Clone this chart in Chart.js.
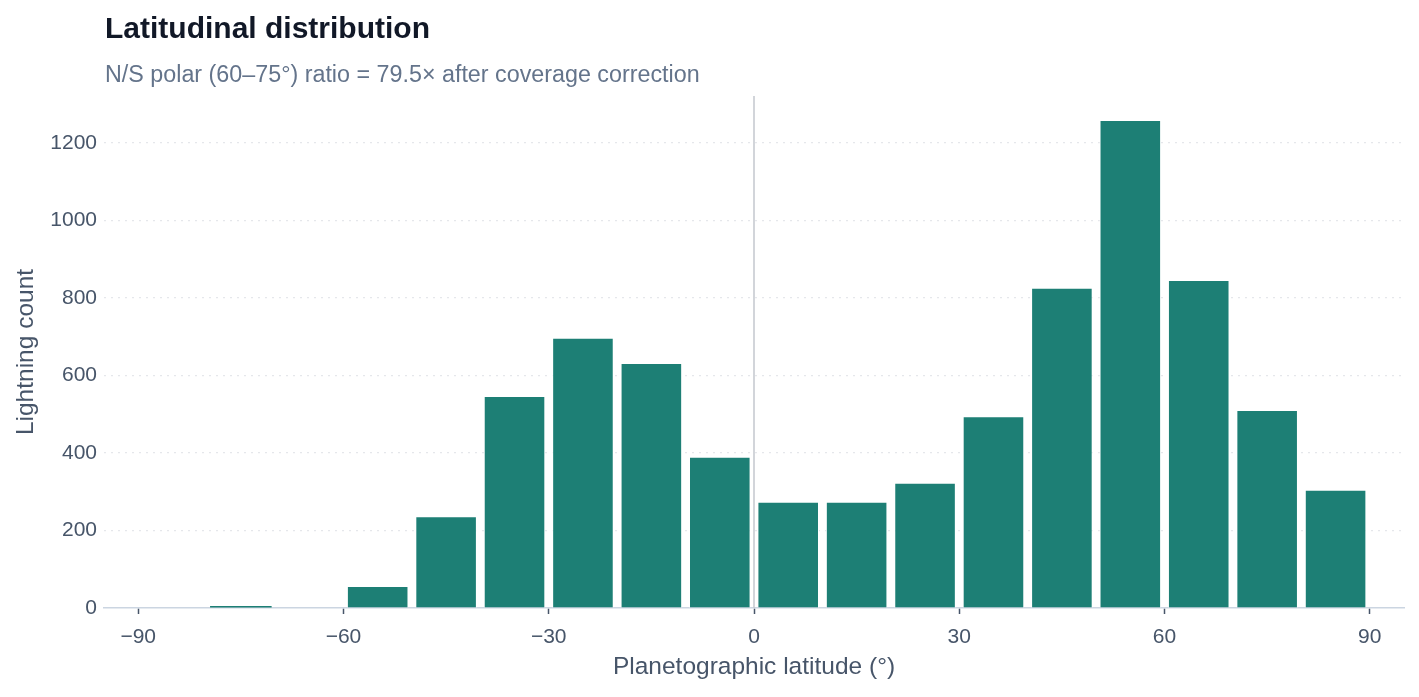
<!DOCTYPE html>
<html>
<head>
  <title>Latitudinal distribution</title>
  <script src="https://cdn.jsdelivr.net/npm/chart.js"></script>
  <style>
    html, body { margin: 0; padding: 0; background: #ffffff; }
    #wrap { width: 1419px; height: 697px; }
  </style>
</head>
<body>
  <div id="wrap"><canvas id="latChart" width="1419" height="697"></canvas></div>
  <script>
    // latitude bins (10 deg wide), given by centre
    var binCenters = [-85, -75, -65, -55, -45, -35, -25, -15, -5, 5, 15, 25, 35, 45, 55, 65, 75, 85];
    var counts = [1, 5, 0, 57, 237, 547, 697, 632, 390, 274, 274, 323, 495, 826, 1259, 846, 511, 305];
    var xTicks = [-90, -60, -30, 0, 30, 60, 90];
    var yTicks = [0, 200, 400, 600, 800, 1000, 1200];

    var titleText = 'Latitudinal distribution';
    var subtitleText = 'N/S polar (60\u201375\u00b0) ratio = 79.5\u00d7 after coverage correction';

    var fontFam = '"Liberation Sans", Arial, Helvetica, sans-serif';

    var headerPlugin = {
      id: 'header',
      beforeDatasetsDraw: function(chart) {
        var ctx = chart.ctx, area = chart.chartArea;
        var x0 = chart.scales.x.getPixelForValue(0);
        ctx.save();
        ctx.strokeStyle = '#c3c7ce';
        ctx.lineWidth = 1.5;
        ctx.beginPath();
        ctx.moveTo(x0, area.top);
        ctx.lineTo(x0, area.bottom);
        ctx.stroke();
        ctx.restore();
      },
      afterDraw: function(chart) {
        var ctx = chart.ctx, left = chart.chartArea.left;
        ctx.save();
        ctx.textBaseline = 'middle';
        ctx.textAlign = 'left';
        ctx.fillStyle = '#111827';
        ctx.font = 'bold 30px ' + fontFam;
        ctx.fillText(titleText, left + 1, 30);
        ctx.fillStyle = '#64748b';
        ctx.font = '23.3px ' + fontFam;
        ctx.fillText(subtitleText, left + 1, 76);
        ctx.restore();
      }
    };

    var points = binCenters.map(function(c, i) { return { x: c, y: counts[i] }; });

    var ctx = document.getElementById('latChart').getContext('2d');
    var latChart = new Chart(ctx, {
      type: 'bar',
      data: {
        datasets: [{
          label: 'Lightning count',
          data: points,
          backgroundColor: '#1d7f75',
          borderColor: '#ffffff',
          borderWidth: function(c) { return c.raw && c.raw.y < 20 ? 0 : 1; },
          barPercentage: 0.9,
          categoryPercentage: 1.0
        }]
      },
      options: {
        responsive: false,
        animation: false,
        layout: { padding: { left: 8, right: 15, top: 96, bottom: 11 } },
        plugins: {
          legend: { display: false },
          tooltip: { enabled: false }
        },
        scales: {
          x: {
            type: 'linear',
            min: -95,
            max: 95,
            offset: false,
            afterBuildTicks: function(scale) {
              scale.ticks = xTicks.map(function(v) { return { value: v }; });
            },
            afterFit: function(scale) { scale.height = 78; },
            grid: {
              display: true,
              offset: false,
              drawOnChartArea: false,
              drawTicks: true,
              tickLength: 6,
              tickColor: '#475569',
              tickWidth: 1.5
            },
            border: { display: true, color: '#cbd5e1', width: 1.5 },
            ticks: {
              color: '#475569',
              padding: 11,
              font: { family: fontFam, size: 21 },
              maxRotation: 0,
              callback: function(v) { return v < 0 ? '\u2212' + Math.abs(v) : '' + v; }
            },
            title: {
              display: true,
              text: 'Planetographic latitude (\u00b0)',
              color: '#475569',
              font: { family: fontFam, size: 24.5 },
              padding: { top: 4, bottom: 4 }
            }
          },
          y: {
            min: 0,
            max: 1321,
            afterBuildTicks: function(scale) {
              scale.ticks = yTicks.map(function(v) { return { value: v }; });
            },
            afterFit: function(scale) { scale.width = 96; },
            grid: {
              drawTicks: false,
              color: function(c) { return c.tick && c.tick.value === 0 ? 'rgba(0,0,0,0)' : '#e5e7eb'; },
              lineWidth: 1.2
            },
            border: { display: false, dash: [2, 5] },
            ticks: {
              color: '#475569',
              padding: 7,
              font: { family: fontFam, size: 21 },
              callback: function(v) { return '' + v; }
            },
            title: {
              display: true,
              text: 'Lightning count',
              color: '#475569',
              font: { family: fontFam, size: 24.5 },
              padding: { top: 4, bottom: 4 }
            }
          }
        }
      },
      plugins: [headerPlugin]
    });
  </script>
</body>
</html>
